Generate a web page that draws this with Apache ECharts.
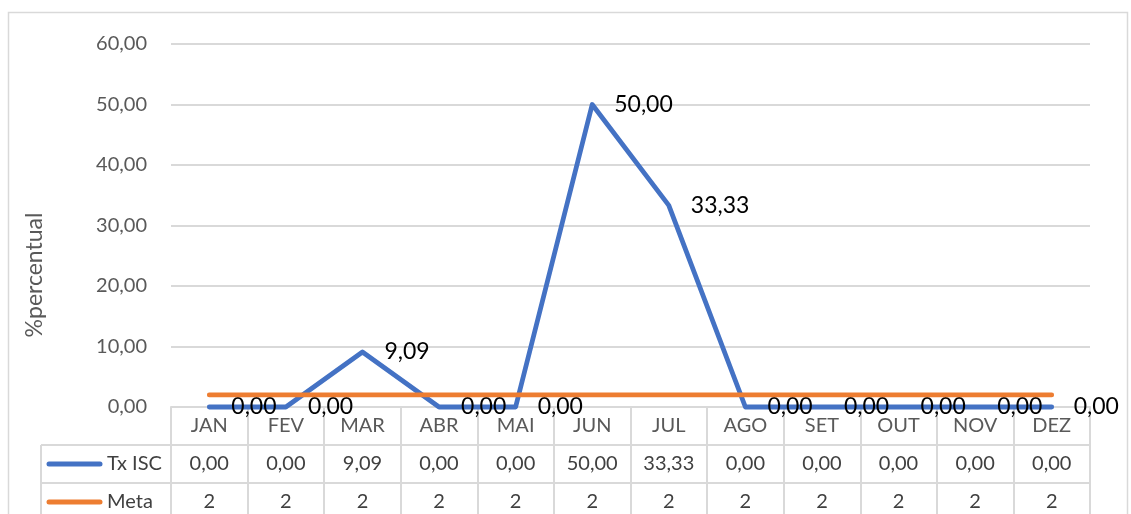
<!DOCTYPE html>
<html><head><meta charset="utf-8">
<script src="https://cdn.jsdelivr.net/npm/echarts@6/dist/echarts.min.js"></script>
<style>html,body{margin:0;padding:0;background:#fff}#c{width:1131px;height:514px}</style>
</head><body><div id="c"></div>
<script>
const months = ['JAN','FEV','MAR','ABR','MAI','JUN','JUL','AGO','SET','OUT','NOV','DEZ'];
const txISC = [0, 0, 9.09, 0, 0, 50, 33.33, 0, 0, 0, 0, 0];
const meta = [2, 2, 2, 2, 2, 2, 2, 2, 2, 2, 2, 2];
const yTicks = [0, 10, 20, 30, 40, 50, 60];

const FONT = 'Lato, Carlito, "Liberation Sans", sans-serif';
const fmt = v => Number(v).toFixed(2).replace('.', ',');
const GL = 171, GR = 41, GT = 44, GB = 107;
const W = 1131, H = 514;
const plotBottom = H - GB, plotRight = W - GR;
const rowH = 38;
const gridColor = '#d9d9d9';

const chart = echarts.init(document.getElementById('c'));
const hidden = {show:false};
chart.setOption({
  animation: false,
  textStyle: {fontFamily: FONT},
  grid: {left: GL, right: GR, top: GT, bottom: GB, containLabel: false},
  xAxis: [
    {type:'category', data: months, boundaryGap: true, position:'bottom',
     axisLine:{show:true, lineStyle:{color:gridColor, width:2}},
     axisTick:{show:true, length: H - plotBottom + 10, lineStyle:{color:gridColor, width:2}},
     axisLabel:{color:'#595959', fontSize:20, fontFamily:FONT, margin:9, interval:0}},
    {type:'category', data: txISC.map(fmt), position:'bottom', offset: rowH,
     axisLine:hidden, axisTick:hidden,
     axisLabel:{color:'#404040', fontSize:20, fontFamily:FONT, margin:9, interval:0}},
    {type:'category', data: meta.map(String), position:'bottom', offset: rowH*2,
     axisLine:hidden, axisTick:hidden,
     axisLabel:{color:'#404040', fontSize:20, fontFamily:FONT, margin:9, interval:0}}
  ],
  yAxis: {type:'value', min: yTicks[0], max: yTicks[yTicks.length-1], interval: 10,
    axisLine:hidden, axisTick:hidden,
    axisLabel:{color:'#595959', fontSize:20, fontFamily:FONT, margin:24, formatter: fmt},
    splitLine:{lineStyle:{color:gridColor, width:2}}},
  series: [
    {name:'Tx ISC', type:'line', data: txISC, xAxisIndex:0, symbol:'circle', symbolSize:0.01, showSymbol:true,
     clip:false,
     lineStyle:{color:'#4472C4', width:4.8, cap:'round', join:'round'},
     itemStyle:{color:'#4472C4'},
     label:{show:true, position:'right', distance:22, offset:[0,3], color:'#000', fontSize:23, fontFamily:FONT,
            formatter: p => fmt(p.value)},
     labelLayout:{hideOverlap:false},
     z: 2},
    {name:'Meta', type:'line', data: meta, xAxisIndex:0, symbol:'none',
     lineStyle:{color:'#ED7D31', width:4.8, cap:'round'},
     itemStyle:{color:'#ED7D31'}, z: 3}
  ],
  graphic: [
    {type:'rect', shape:{x:8.5, y:12.5, width:1119, height:520}, style:{fill:'none', stroke:gridColor, lineWidth:1.5}, silent:true},
    {type:'line', shape:{x1:41, y1:plotBottom+rowH, x2:plotRight, y2:plotBottom+rowH}, style:{stroke:gridColor, lineWidth:2}},
    {type:'line', shape:{x1:41, y1:plotBottom+rowH*2, x2:plotRight, y2:plotBottom+rowH*2}, style:{stroke:gridColor, lineWidth:2}},
    {type:'line', shape:{x1:41, y1:plotBottom+rowH, x2:41, y2:H}, style:{stroke:gridColor, lineWidth:2}},
    {type:'line', shape:{x1:49, y1:plotBottom+rowH*1.5, x2:100, y2:plotBottom+rowH*1.5}, style:{stroke:'#4472C4', lineWidth:5, lineCap:'round'}},
    {type:'line', shape:{x1:49, y1:plotBottom+rowH*2.5, x2:100, y2:plotBottom+rowH*2.5}, style:{stroke:'#ED7D31', lineWidth:5, lineCap:'round'}},
    {type:'text', x:107, y:plotBottom+rowH*1.5, style:{text:'Tx ISC', fill:'#404040', font:'20px '+FONT, textAlign:'left', textVerticalAlign:'middle'}},
    {type:'text', x:107, y:plotBottom+rowH*2.5, style:{text:'Meta', fill:'#404040', font:'20px '+FONT, textAlign:'left', textVerticalAlign:'middle'}},
    {type:'text', x:35, y:275, rotation:Math.PI/2, style:{text:'%percentual', fill:'#595959', font:'23px '+FONT, textAlign:'center', textVerticalAlign:'middle'}}
  ]
});
</script></body></html>
